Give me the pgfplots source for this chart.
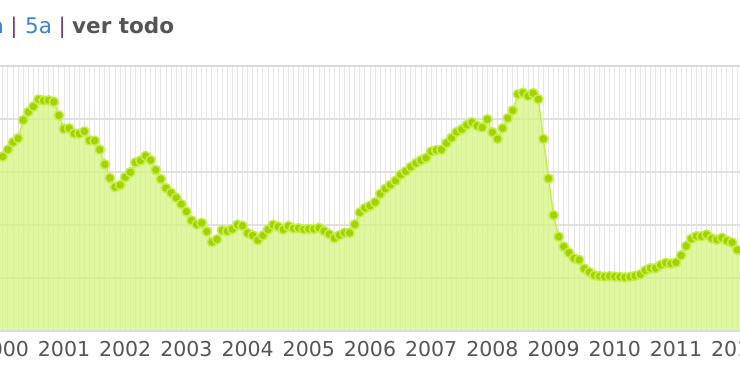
\documentclass[border=0pt]{standalone}
\usepackage{pgfplots}
\pgfplotsset{compat=1.18}
\usepackage{pgfplotstable}
\usepackage{fontspec}
\setmainfont{DejaVu Sans}
\definecolor{dotgreen}{HTML}{A2D200}
\definecolor{linegreen}{HTML}{C6EE4A}
\definecolor{fillgreen}{HTML}{D3F47A}
\definecolor{gridgray}{HTML}{E6E6E6}
\definecolor{hgridgray}{HTML}{E0E0E0}
\definecolor{bordergray}{HTML}{DADADA}
\definecolor{linkblue}{HTML}{3C83D6}
\definecolor{sepcol}{HTML}{74407A}
\definecolor{labelgray}{HTML}{555555}
\newcommand\hdr{\fontsize{21.5bp}{26bp}\selectfont}
\newcommand\tkf{\fontsize{20.5bp}{24bp}\selectfont}

\pgfplotstableread{
year month value
1999 11 3.694
1999 12 3.835
2000 1 3.949
2000 2 4.108
2000 3 4.273
2000 4 4.362
2000 5 4.775
2000 6 4.959
2000 7 5.082
2000 8 5.241
2000 9 5.218
2000 10 5.224
2000 11 5.189
2000 12 4.881
2001 1 4.574
2001 2 4.588
2001 3 4.471
2001 4 4.468
2001 5 4.519
2001 6 4.315
2001 7 4.308
2001 8 4.107
2001 9 3.774
2001 10 3.463
2001 11 3.257
2001 12 3.303
2002 1 3.483
2002 2 3.594
2002 3 3.816
2002 4 3.859
2002 5 3.964
2002 6 3.869
2002 7 3.645
2002 8 3.440
2002 9 3.236
2002 10 3.126
2002 11 3.017
2002 12 2.872
2003 1 2.705
2003 2 2.504
2003 3 2.411
2003 4 2.447
2003 5 2.252
2003 6 2.014
2003 7 2.076
2003 8 2.279
2003 9 2.258
2003 10 2.303
2003 11 2.405
2003 12 2.381
2004 1 2.216
2004 2 2.163
2004 3 2.055
2004 4 2.163
2004 5 2.297
2004 6 2.404
2004 7 2.361
2004 8 2.299
2004 9 2.377
2004 10 2.321
2004 11 2.328
2004 12 2.301
2005 1 2.312
2005 2 2.310
2005 3 2.335
2005 4 2.265
2005 5 2.193
2005 6 2.103
2005 7 2.168
2005 8 2.223
2005 9 2.220
2005 10 2.414
2005 11 2.684
2005 12 2.783
2006 1 2.833
2006 2 2.914
2006 3 3.105
2006 4 3.221
2006 5 3.308
2006 6 3.401
2006 7 3.539
2006 8 3.615
2006 9 3.715
2006 10 3.799
2006 11 3.864
2006 12 3.921
2007 1 4.064
2007 2 4.094
2007 3 4.106
2007 4 4.253
2007 5 4.373
2007 6 4.505
2007 7 4.564
2007 8 4.666
2007 9 4.725
2007 10 4.647
2007 11 4.607
2007 12 4.793
2008 1 4.498
2008 2 4.349
2008 3 4.590
2008 4 4.820
2008 5 4.994
2008 6 5.361
2008 7 5.393
2008 8 5.323
2008 9 5.384
2008 10 5.248
2008 11 4.350
2008 12 3.452
2009 1 2.622
2009 2 2.135
2009 3 1.909
2009 4 1.771
2009 5 1.644
2009 6 1.610
2009 7 1.412
2009 8 1.334
2009 9 1.261
2009 10 1.243
2009 11 1.231
2009 12 1.242
2010 1 1.232
2010 2 1.225
2010 3 1.215
2010 4 1.225
2010 5 1.249
2010 6 1.281
2010 7 1.373
2010 8 1.421
2010 9 1.420
2010 10 1.495
2010 11 1.541
2010 12 1.526
2011 1 1.550
2011 2 1.714
2011 3 1.924
2011 4 2.086
2011 5 2.147
2011 6 2.144
2011 7 2.183
2011 8 2.097
2011 9 2.067
2011 10 2.110
2011 11 2.044
2011 12 2.004
2012 1 1.837
2012 2 1.678
}\euribor

\begin{document}
\begin{tikzpicture}[x=1bp,y=1bp]
\useasboundingbox (0,-58) rectangle (740,331);
\clip (0,-58) rectangle (740,331);
\fill[white] (0,-58) rectangle (740,331);
\begin{axis}[
  at={(0,0)}, anchor=south west,
  scale only axis, width=740bp, height=265bp,
  xmin=1999.954, xmax=2012.046, ymin=0, ymax=6,
  axis line style={draw=none},
  xtick={2000,2001,2002,2003,2004,2005,2006,2007,2008,2009,2010,2011,2012},
  xticklabels={2000,2001,2002,2003,2004,2005,2006,2007,2008,2009,2010,2011,2012},
  minor x tick num=11,
  ytick={1.2,2.4,3.6,4.8}, yticklabels={},
  major tick length=0pt, minor tick length=0pt,
  xmajorgrids, xminorgrids, ymajorgrids,
  major x grid style={gridgray, line width=1bp},
  minor x grid style={gridgray, line width=1bp},
  major y grid style={hgridgray, line width=2bp},
  xticklabel style={font=\tkf, text=labelgray, inner sep=0pt, anchor=north, yshift=-10bp},
]
\addplot[draw=none, fill=fillgreen, fill opacity=0.72]
  table[x expr=\thisrow{year}+(\thisrow{month}-1)/12, y=value]{\euribor} \closedcycle;
\addplot[draw=linegreen, line width=1.5bp, mark=*, mark size=4.6bp,
  mark options={draw=none, fill=dotgreen}]
  table[x expr=\thisrow{year}+(\thisrow{month}-1)/12, y=value]{\euribor};
\end{axis}
\draw[bordergray, line width=2.7bp] (0,265) -- (740,265);
\draw[bordergray, line width=2.7bp] (0,0) -- (740,0);
\node[anchor=base east, inner sep=0pt, text=linkblue, font=\hdr] at (4.2,297.5) {1a};
\node[anchor=base, inner sep=0pt, text=sepcol, font=\hdr] at (14,297.5) {|};
\node[anchor=base west, inner sep=0pt, text=linkblue, font=\hdr] at (25,297.5) {5a};
\node[anchor=base, inner sep=0pt, text=sepcol, font=\hdr] at (62.3,297.5) {|};
\node[anchor=base west, inner sep=0pt, text=labelgray, font=\hdr\bfseries] at (72,297.5) {ver todo};
\end{tikzpicture}
\end{document}
